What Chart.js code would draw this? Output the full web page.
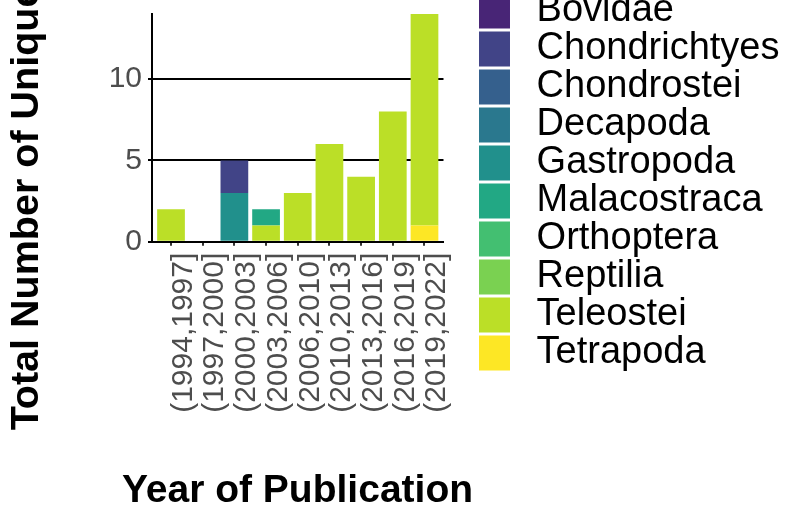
<!DOCTYPE html>
<html><head><meta charset="utf-8">
<script src="https://cdn.jsdelivr.net/npm/chart.js@4.4.1/dist/chart.umd.min.js"></script>
<style>
html,body{margin:0;padding:0;background:#fff;overflow:hidden;width:807px;height:523px}
#wrap{position:absolute;left:0;top:-10px;width:807px;height:533px}
canvas{display:block}
</style></head><body>
<div id="wrap"><canvas id="c" width="807" height="533"></canvas></div>
<script>
// ---- data ----
const categories = ["(1994,1997]","(1997,2000]","(2000,2003]","(2003,2006]","(2006,2010]","(2010,2013]","(2013,2016]","(2016,2019]","(2019,2022]"];
const taxa = ["Bovidae","Chondrichtyes","Chondrostei","Decapoda","Gastropoda","Malacostraca","Orthoptera","Reptilia","Teleostei","Tetrapoda"];
const taxaColors = ["#482576","#414487","#35608D","#2A788E","#21908C","#22A884","#43BF71","#7AD151","#BBDF27","#FDE725"];
const bovidae       = [0,0,0,0,0,0,0,0,0];
const chondrichtyes = [0,0,2,0,0,0,0,0,0];
const chondrostei   = [0,0,0,0,0,0,0,0,0];
const decapoda      = [0,0,0,0,0,0,0,0,0];
const gastropoda    = [0,0,3,0,0,0,0,0,0];
const malacostraca  = [0,0,0,1,0,0,0,0,0];
const orthoptera    = [0,0,0,0,0,0,0,0,0];
const reptilia      = [0,0,0,0,0,0,0,0,0];
const teleostei     = [2,0,0,1,3,6,4,8,13];
const tetrapoda     = [0,0,0,0,0,0,0,0,1];
const seriesValues = [bovidae,chondrichtyes,chondrostei,decapoda,gastropoda,malacostraca,orthoptera,reptilia,teleostei,tetrapoda];
const yTicks = [0,5,10];
const xTitle = "Year of Publication";
const yTitle = "Total Number of Unique Species";

const FONT = "'Liberation Sans', Arial, sans-serif";

// ggplot stacks the first level on top -> build datasets in reverse order
const datasets = [];
for (let k = taxa.length - 1; k >= 0; k--) {
  datasets.push({
    label: taxa[k],
    data: categories.map((c, i) => ({ x: i, y: seriesValues[k][i] })),
    backgroundColor: taxaColors[k],
    borderColor: taxaColors[k],
    borderWidth: 0,
    barPercentage: 0.875,
    categoryPercentage: 1
  });
}

new Chart(document.getElementById('c'), {
  type: 'bar',
  data: { datasets },
  options: {
    responsive: false,
    animation: false,
    devicePixelRatio: 1,
    layout: { padding: { top: 2, left: -194.5, right: 17.5, bottom: 0 } },
    plugins: {
      subtitle: { display: true, text: '', position: 'top', padding: 0, font: { size: 18, lineHeight: 1 } },
      title: {
        display: true, text: xTitle, position: 'bottom', align: 'center', fullSize: true,
        color: '#000000', font: { family: FONT, size: 39, weight: 'bold', lineHeight: 1.2 },
        padding: { top: 0, bottom: 7.9 }
      },
      tooltip: { enabled: false },
      legend: {
        position: 'right', align: 'start', reverse: true, maxWidth: 400,
        labels: {
          boxWidth: 31, boxHeight: 35, padding: 0, color: '#000000',
          font: { family: FONT, size: 38 },
          generateLabels: chart => Chart.defaults.plugins.legend.labels.generateLabels(chart)
            .map(it => Object.assign(it, { text: '\u2009' + it.text }))
        }
      }
    },
    scales: {
      x: {
        type: 'linear', min: -0.6, max: 8.6, offset: false, stacked: true,
        grid: { drawOnChartArea: false, drawTicks: true, tickLength: 4, color: '#333333', lineWidth: 2, offset: false },
        border: { display: true, color: '#000000', width: 2 },
        ticks: {
          stepSize: 1, autoSkip: false, includeBounds: false, minRotation: 90, maxRotation: 90,
          padding: 7, labelOffset: 12.5, color: '#4D4D4D', font: { family: FONT, size: 30 },
          callback: v => (categories[v] !== undefined ? categories[v] : '')
        },
        afterFit: s => { s.height = 226.6; }
      },
      y: {
        min: 0, max: 14, stacked: true,
        grid: { color: '#000000', lineWidth: 2, tickLength: 4, drawTicks: true },
        border: { display: true, color: '#000000', width: 2 },
        ticks: { stepSize: 5, includeBounds: false, padding: 6, color: '#4D4D4D', font: { family: FONT, size: 30 },
          callback: v => (yTicks.includes(v) ? String(v) : '') },
        title: { display: true, text: yTitle, color: '#000000', font: { family: FONT, size: 39.5, weight: 'bold', lineHeight: 1.2 }, padding: { top: 197.5, bottom: 0 } },
        afterFit: s => { s.width = 346.5; }
      },
      y2: {
        type: 'linear', position: 'right', display: true,
        grid: { display: false }, border: { display: false }, ticks: { display: false },
        afterFit: s => { s.width = 35.5; }
      }
    }
  }
});
</script>
</body></html>
